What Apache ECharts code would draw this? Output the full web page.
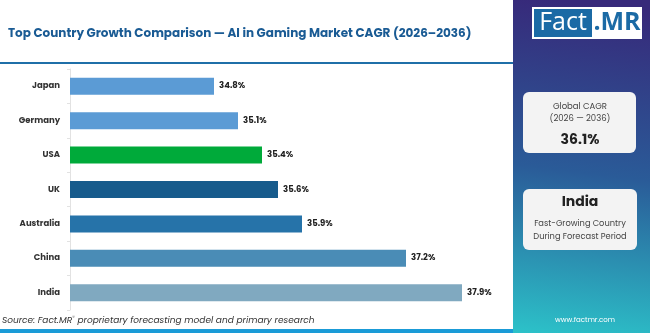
<!DOCTYPE html>
<html>
<head>
<meta charset="utf-8">
<script src="https://cdn.jsdelivr.net/npm/echarts@6/dist/echarts.min.js"></script>
<style>
  html, body { margin: 0; padding: 0; background: #fff; }
  #main { width: 650px; height: 333px; }
</style>
</head>
<body>
<div id="main"></div>
<script>
// data
const countries = ['Japan', 'Germany', 'USA', 'UK', 'Australia', 'China', 'India']
const cagr = [34.8, 35.1, 35.4, 35.6, 35.9, 37.2, 37.9]
const barColors = ['#5b9bd5', '#5b9bd5', '#00aa3a', '#175b8c', '#2673a9', '#4a8cb6', '#80a9c0']
const globalCagr = '36.1%'
const topCountry = 'India'

const chart = echarts.init(document.getElementById('main'))
const font = 'Poppins, Inter, "Open Sans", sans-serif'

const option = {
  animation: false,
  title: {
    text: 'Top Country Growth Comparison — AI in Gaming Market CAGR (2026–2036)',
    left: 3,
    top: 23,
    textStyle: { fontFamily: font, fontSize: 12, fontWeight: 'bold', color: '#1a5b94' }
  },
  grid: { left: 70, top: 69, width: 440, height: 241 },
  xAxis: {
    type: 'value',
    min: 33,
    max: 38.5,
    show: false
  },
  yAxis: {
    type: 'category',
    inverse: true,
    data: countries,
    axisLine: { show: true, lineStyle: { color: '#e2e2e2', width: 1 } },
    axisTick: { show: true, length: 3, lineStyle: { color: '#e2e2e2' } },
    axisLabel: { margin: 10, fontFamily: font, fontSize: 8.5, fontWeight: 'bold', color: '#333' }
  },
  series: [{
    type: 'bar',
    barWidth: 17,
    data: cagr.map((v, i) => ({ value: v, itemStyle: { color: barColors[i] } })),
    label: {
      show: true,
      position: 'right',
      distance: 5,
      formatter: p => p.value.toFixed(1) + '%',
      fontFamily: font,
      fontSize: 8.5,
      fontWeight: 'bold',
      color: '#222'
    }
  }],
  graphic: [
    // line under title
    { type: 'rect', shape: { x: 0, y: 62, width: 513, height: 2 }, style: { fill: '#1f6fa8' } },
    // bottom line
    { type: 'rect', shape: { x: 0, y: 329, width: 513, height: 4 }, style: { fill: '#1a9bd7' } },
    // source
    {
      type: 'text', left: 2, top: 315,
      style: {
        text: '{a|Source: Fact.MR}{s|®}{a| proprietary forecasting model and primary research}',
        rich: {
          a: { fontFamily: font, fontSize: 9, fontStyle: 'italic', fill: '#333' },
          s: { fontFamily: font, fontSize: 5, fill: '#333', verticalAlign: 'top', padding: [0, 0, 6, 0] }
        }
      }
    },
    // right panel
    {
      type: 'rect', shape: { x: 513, y: 0, width: 137, height: 333 },
      style: {
        fill: new echarts.graphic.LinearGradient(0.3, 0, 0, 1, [
          { offset: 0, color: '#37297a' },
          { offset: 0.5, color: '#2a5b98' },
          { offset: 1, color: '#2cc2c9' }
        ])
      }
    },
    // logo
    { type: 'rect', shape: { x: 532, y: 7, width: 110, height: 32 }, style: { fill: '#ffffff' } },
    { type: 'rect', shape: { x: 534, y: 9, width: 58, height: 28 }, style: { fill: '#1b6aa5' } },
    { type: 'text', x: 563, y: 23, style: { text: 'Fact', fontFamily: '"Open Sans", sans-serif', fontSize: 25, fill: '#fff', align: 'center', verticalAlign: 'middle' } },
    { type: 'text', x: 617, y: 23, style: { text: '.MR', fontFamily: '"Open Sans", sans-serif', fontSize: 25, fontWeight: 'bold', fill: '#1b6aa5', align: 'center', verticalAlign: 'middle' } },
    // global cagr card
    { type: 'rect', shape: { x: 523, y: 92, width: 113, height: 61, r: 6 }, style: { fill: '#f3f3f3' } },
    { type: 'text', x: 580, y: 107, style: { text: 'Global CAGR', fontFamily: font, fontSize: 8.5, fill: '#444', align: 'center', verticalAlign: 'middle' } },
    { type: 'text', x: 580, y: 119, style: { text: '(2026 — 2036)', fontFamily: font, fontSize: 8.5, fill: '#444', align: 'center', verticalAlign: 'middle' } },
    { type: 'text', x: 580, y: 140, style: { text: globalCagr, fontFamily: font, fontSize: 14, fontWeight: 'bold', fill: '#222', align: 'center', verticalAlign: 'middle' } },
    // top country card
    { type: 'rect', shape: { x: 523, y: 189, width: 114, height: 61, r: 6 }, style: { fill: '#f3f3f3' } },
    { type: 'text', x: 580, y: 202, style: { text: topCountry, fontFamily: font, fontSize: 14, fontWeight: 'bold', fill: '#222', align: 'center', verticalAlign: 'middle' } },
    { type: 'text', x: 580, y: 224, style: { text: 'Fast-Growing Country', fontFamily: font, fontSize: 8.3, fill: '#444', align: 'center', verticalAlign: 'middle' } },
    { type: 'text', x: 580, y: 237, style: { text: 'During Forecast Period', fontFamily: font, fontSize: 8.3, fill: '#444', align: 'center', verticalAlign: 'middle' } },
    // url
    { type: 'text', x: 585, y: 320, style: { text: 'www.factmr.com', fontFamily: font, fontSize: 7, fill: '#fff', align: 'center', verticalAlign: 'middle' } }
  ]
}

chart.setOption(option)
</script>
</body>
</html>
